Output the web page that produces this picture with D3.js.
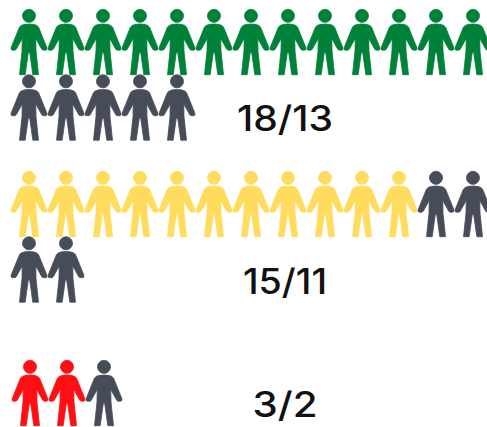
<!DOCTYPE html>
<html>
<head>
<meta charset="utf-8">
<style>
  html, body { margin: 0; padding: 0; background: #fff; }
  svg { display: block; }
  text { font-family: Inter, "Open Sans", sans-serif; font-size: 35px; font-weight: 500; fill: #111; }
</style>
</head>
<body>
<svg width="487" height="427"></svg>
<script src="https://d3js.org/d3.v7.min.js"></script>
<script>
// values
var totals = [18, 15, 3];
var filled = [13, 11, 2];
var fillColors = ["#00813a", "#ffdc5e", "#ff0f14"];

var emptyColor = "#474d58";
var perRow = 13;

var svg = d3.select("svg");

// one person, origin at top of head, centred
var personPath = "M0,0.3 A6.5,6.5 0 1 1 -0.01,0.3 Z " +
    "M-4,15.3 Q0,14.8 4,15.3 Q8,15.8 9.5,18 L17.8,38.5 Q18.6,41.2 16.5,41.2 L14.5,41.2 Q13.3,41.2 12.6,40 L6.8,29.5 " +
    "L7,42 L9.5,65.7 L3.8,65.7 L0.7,43.5 L-0.7,43.5 L-3.8,65.7 L-9.5,65.7 L-7,42 L-6.8,29.5 " +
    "L-12.6,40 Q-13.3,41.2 -14.5,41.2 L-16.5,41.2 Q-18.6,41.2 -17.8,38.5 L-9.5,18 Q-8,15.8 -4,15.3 Z";

var x = d3.scaleLinear().domain([0, perRow - 1]).range([29, 473]);
var rowY = d3.scaleLinear().domain([0, 1]).range([0, 65.5]);

var groupTop = [9, 171, 360];
var groupDx = [0, 0, 1];
var labelY = [131, 294, 417];
var labelWidth = [96, 84, 65];

totals.forEach(function(total, g) {
    var people = d3.range(total);
    var group = svg.append("g")
        .attr("transform", "translate(" + groupDx[g] + "," + groupTop[g] + ")");

    group.selectAll("path")
        .data(people)
        .enter()
        .append("path")
        .attr("d", personPath)
        .attr("transform", function(d) {
            return "translate(" + x(d % perRow) + "," + rowY(Math.floor(d / perRow)) + ")";
        })
        .style("stroke-width", 0.8)
        .style("stroke-linejoin", "round")
        .style("fill", function(d) {
            return d < filled[g] ? fillColors[g] : emptyColor;
        })
        .style("stroke", function(d) {
            return d < filled[g] ? fillColors[g] : emptyColor;
        });

    svg.append("text")
        .attr("x", 285)
        .attr("y", labelY[g])
        .attr("text-anchor", "middle")
        .attr("textLength", labelWidth[g])
        .attr("lengthAdjust", "spacingAndGlyphs")
        .text(total + "/" + filled[g]);
});
</script>
</body>
</html>
